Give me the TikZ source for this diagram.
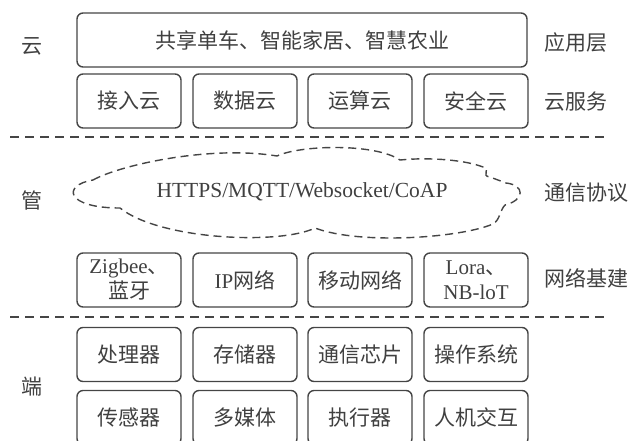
\documentclass[tikz,border=0pt]{standalone}
\usepackage{fontspec}
\setmainfont{Liberation Serif}
\newfontfamily\cjk{Noto Sans CJK SC}
\definecolor{linec}{gray}{0.27}
\definecolor{textc}{gray}{0.25}
\tikzset{
  box/.style={draw=linec, line width=1.4pt, rounded corners=6pt,
    minimum width=104pt, minimum height=54pt, inner sep=0pt,
    text=textc, align=center, font=\cjk\fontsize{21}{25}\selectfont},
  lbl/.style={text=textc, inner sep=0pt, font=\cjk\fontsize{21}{24}\selectfont},
  sepline/.style={draw=linec, line width=1.3pt, dash pattern=on 9pt off 6pt},
  cloudline/.style={draw=linec, line width=1.4pt, dash pattern=on 8pt off 5pt},
}
\begin{document}
\begin{tikzpicture}[x=1pt,y=-1pt]
\useasboundingbox (0,0) rectangle (631,440);
% top application layer
\node[box, minimum width=450pt] (app) at (302,40) {共享单车、智能家居、智慧农业};
% cloud services
\node[box] (c1) at (129,101) {接入云};
\node[box] (c2) at (245,101) {数据云};
\node[box] (c3) at (360,101) {运算云};
\node[box] (c4) at (476,101) {安全云};
% separators
\coordinate (s1a) at (10,137);
\coordinate (s1b) at (604,137);
\draw[sepline] (s1a) -- (s1b);
\coordinate (s2a) at (10,317);
\coordinate (s2b) at (604,317);
\draw[sepline] (s2a) -- (s2b);
% cloud
\draw[cloudline] (93,180)
  .. controls (120,165) and (210,145) .. (277,156)
  .. controls (300,145) and (375,143) .. (400,160)
  .. controls (430,157) and (465,160) .. (483,167)
  .. controls (492,168) and (480,176) .. (490,177)
  -- (506,183)
  .. controls (525,185) and (525,200) .. (505,205)
  .. controls (500,210) and (500,220) .. (493,224)
  .. controls (460,238) and (360,245) .. (315,228)
  .. controls (280,245) and (160,240) .. (120,208)
  .. controls (65,208) and (62,185) .. (93,180) -- cycle;
\node[text=textc, inner sep=0pt, font=\fontsize{21.5}{25}\selectfont] (proto) at (302,192) {HTTPS/MQTT/Websocket/CoAP};
% network infrastructure
\node[box] (n1) at (129,280) {{\rmfamily Zigbee}、\\蓝牙};
\node[box] (n2) at (245,280) {{\rmfamily IP}网络};
\node[box] (n3) at (360,280) {移动网络};
\node[box] (n4) at (476,280) {{\rmfamily Lora}、\\{\rmfamily NB-loT}};
% devices
\node[box] (d1) at (129,354.5) {处理器};
\node[box] (d2) at (245,354.5) {存储器};
\node[box] (d3) at (360,354.5) {通信芯片};
\node[box] (d4) at (476,354.5) {操作系统};
\node[box] (e1) at (129,417.5) {传感器};
\node[box] (e2) at (245,417.5) {多媒体};
\node[box] (e3) at (360,417.5) {执行器};
\node[box] (e4) at (476,417.5) {人机交互};
% left labels
\node[lbl] (yun) at (32,46) {云};
\node[lbl] (guan) at (32,200) {管};
\node[lbl] (duan) at (32,387) {端};
% right labels
\node[lbl, anchor=west] (r1) at (544,43) {应用层};
\node[lbl, anchor=west] (r2) at (544,102) {云服务};
\node[lbl, anchor=west] (r3) at (544,193) {通信协议};
\node[lbl, anchor=west] (r4) at (544,278) {网络基建};
\end{tikzpicture}
\end{document}
